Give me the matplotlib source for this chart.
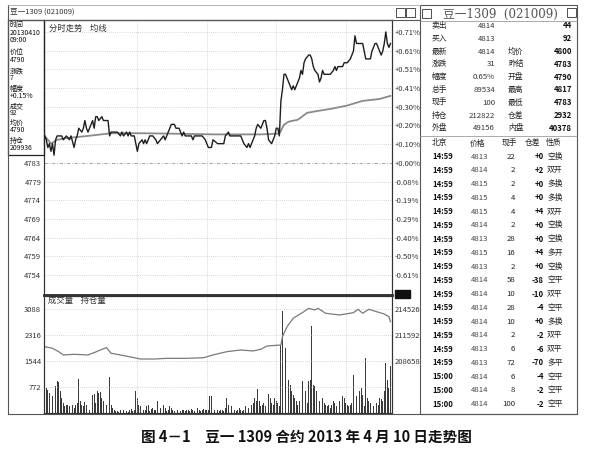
import numpy as np
import matplotlib
matplotlib.use('Agg')
import matplotlib.pyplot as plt
from matplotlib.patches import Rectangle

plt.rcParams['font.family'] = ['Noto Sans CJK SC', 'DejaVu Sans']

# ---- data ----
# price line: minute index (0..224) and price
price_t = [
    0, 1, 2, 3, 4, 5, 6, 7, 8, 9,
    11, 12, 14, 16, 17, 19, 20, 21, 22, 24,
    25, 26, 27, 28, 30, 31, 32, 33, 34, 35,
    37, 38, 39, 41, 42, 43, 45, 47, 49, 50,
    51, 53, 54, 55, 56, 58, 59, 60, 61, 63,
    64, 65, 66, 68, 70, 72, 73, 75, 77, 78,
    80, 81, 82, 84, 85, 87, 88, 89, 90, 91,
    93, 95, 96, 97, 99, 102, 104, 105, 106, 108,
    109, 112, 116, 117, 119, 120, 121, 125, 127, 128,
    129, 131, 132, 133, 134, 136, 137, 138, 140, 141,
    142, 143, 144, 145, 147, 148, 149, 150, 151, 152,
    153, 154, 155, 156, 157, 159, 160, 161, 162, 163,
    165, 166, 167, 168, 169, 171, 172, 173, 174, 175,
    177, 178, 179, 180, 181, 182, 183, 185, 187, 188,
    189, 190, 191, 193, 194, 196, 198, 200, 201, 202,
    204, 206, 207, 208, 209, 211, 212, 214, 215, 216,
    218, 219, 220, 221, 222, 223, 224]
price_v = [
    4790, 4789, 4787, 4788, 4786, 4788, 4785, 4789, 4790, 4790,
    4790, 4789, 4790, 4789, 4790, 4787, 4789, 4790, 4792, 4791,
    4792, 4794, 4792, 4791, 4793, 4794, 4792, 4795, 4795, 4794,
    4795, 4794, 4794, 4794, 4790, 4791, 4791, 4791, 4790, 4791,
    4790, 4791, 4790, 4791, 4790, 4790, 4788, 4786, 4788, 4789,
    4788, 4789, 4788, 4790, 4790, 4789, 4788, 4789, 4790, 4789,
    4791, 4792, 4793, 4793, 4792, 4792, 4791, 4790, 4791, 4790,
    4790, 4790, 4789, 4790, 4790, 4790, 4789, 4788, 4787, 4787,
    4789, 4788, 4788, 4790, 4791, 4790, 4790, 4790, 4790, 4789,
    4788, 4787, 4788, 4787, 4788, 4790, 4792, 4793, 4792, 4793,
    4794, 4794, 4792, 4789, 4788, 4789, 4790, 4792, 4792, 4790,
    4799, 4802, 4806, 4806, 4805, 4803, 4802, 4803, 4802, 4803,
    4805, 4807, 4806, 4809, 4810, 4811, 4811, 4810, 4808, 4807,
    4806, 4804, 4805, 4807, 4806, 4806, 4806, 4806, 4807, 4808,
    4807, 4808, 4808, 4808, 4809, 4809, 4810, 4812, 4816, 4814,
    4814, 4814, 4812, 4810, 4810, 4810, 4812, 4814, 4814, 4813,
    4811, 4812, 4814, 4817, 4814, 4813, 4814]

avg_t = [0, 4, 8, 15, 28, 43, 62, 81, 110, 140, 152, 155, 158, 164,
         170, 177, 185, 196, 206, 217, 224]
avg_v = [4790, 4788, 4789, 4789.5, 4790, 4790.7, 4790.7, 4790.6, 4790.4,
         4790.4, 4790.6, 4792.9, 4793.7, 4794.2, 4796.0, 4796.5, 4797.0,
         4797.9, 4799.1, 4799.6, 4800.4]

# volume per minute (225 minutes)
volume = [
    1650, 740, 690, 600, 560, 500, 990, 800, 940, 920,
    650, 450, 300, 200, 250, 250, 200, 300, 250, 150,
    250, 300, 1020, 350, 250, 200, 340, 250, 150, 100,
    150, 540, 560, 300, 640, 600, 620, 450, 350, 450,
    250, 200, 1060, 250, 150, 80, 60, 50, 40, 100,
    60, 90, 50, 60, 40, 80, 120, 60, 100, 640,
    450, 250, 200, 150, 100, 80, 200, 250, 60, 120,
    150, 100, 80, 345, 200, 150, 100, 250, 150, 60,
    100, 200, 150, 100, 60, 120, 80, 60, 50, 100,
    80, 60, 80, 100, 50, 120, 80, 60, 100, 150,
    80, 60, 100, 120, 80, 100, 80, 510, 510, 150,
    100, 50, 80, 60, 100, 80, 60, 150, 440, 250,
    150, 200, 120, 100, 60, 80, 150, 100, 60, 80,
    200, 250, 150, 200, 250, 300, 450, 350, 710, 350,
    200, 250, 300, 200, 450, 550, 450, 300, 250, 450,
    350, 300, 200, 2020, 3010, 3030, 1920, 1900, 990, 840,
    640, 540, 450, 350, 250, 350, 1040, 940, 1580, 640,
    300, 940, 990, 2570, 840, 790, 640, 540, 350, 250,
    450, 300, 250, 200, 250, 150, 250, 350, 300, 200,
    450, 350, 250, 500, 450, 300, 250, 200, 250, 300,
    1135, 940, 500, 540, 640, 740, 540, 200, 1630, 450,
    350, 300, 250, 200, 590, 300, 250, 450, 400, 350,
    640, 1480, 990, 740, 1380]

# open interest line
oi_t = [0, 5, 9, 12, 19, 28, 32, 36, 40, 43, 49, 58, 62, 71, 79, 92, 103,
        109, 118, 127, 135, 140, 144, 153, 154, 157, 161, 168, 171, 175,
        177, 182, 191, 200, 203, 206, 210, 215, 220, 223, 224]
oi_v = [210270, 210090, 209710, 209340, 209410, 209340, 209600, 209900,
        210160, 209530, 209340, 209030, 208880, 208880, 208960, 208960,
        209030, 209340, 209710, 209900, 209790, 209980, 210350, 210460,
        211400, 212530, 213480, 214230, 214600, 214410, 214600, 214040,
        213850, 214110, 214490, 214040, 214490, 214220, 213960, 213660,
        213090]

settle = 4783
pct_labels = ['+0.71%', '+0.61%', '+0.51%', '+0.41%', '+0.30%', '+0.20%',
              '+0.10%', '+0.00%', '-0.08%', '-0.19%', '-0.29%', '-0.40%',
              '-0.50%', '-0.61%']
price_labels = ['4783', '4779', '4774', '4769', '4764', '4759', '4754']
vol_ticks = [772, 1544, 2316, 3088]
oi_ticks = [208658, 211592, 214526]

info_left = ['时间', '20130410', '09:00', '价位', '4790', '涨跌', '7', '幅度',
             '+0.15%', '成交', '92', '均价', '4790', '持仓', '209936']

quote_lab1 = ['卖出', '买入', '最新', '涨跌', '幅度', '总手', '现手', '持仓', '外盘']
quote_val1 = ['4814', '4813', '4814', '31', '0.65%', '89534', '100', '212822', '49156']
quote_lab2 = ['', '', '均价', '昨结', '开盘', '最高', '最低', '仓差', '内盘']
quote_val2 = ['44', '92', '4800', '4783', '4790', '4817', '4783', '2932', '40378']

tick_time = ['14:59'] * 16 + ['15:00'] * 3
tick_price = ['4813', '4814', '4815', '4815', '4815', '4814', '4813', '4815', '4813',
              '4814', '4814', '4814', '4814', '4814', '4813', '4813', '4814', '4814', '4814']
tick_hand = ['22', '2', '2', '4', '4', '2', '28', '16', '2', '58', '10', '28', '10',
             '2', '6', '72', '6', '8', '100']
tick_oi = ['+0', '+2', '+0', '+0', '+4', '+0', '+0', '+4', '+0', '-38', '-10', '-4',
           '+0', '-2', '-6', '-70', '-4', '-2', '-2']
tick_kind = ['空换', '双开', '多换', '多换', '双开', '空换', '空换', '多开', '空换', '空平',
             '双平', '空平', '多换', '双平', '双平', '多平', '空平', '空平', '空平']

# ---- figure ----
W, H = 615, 453
fig = plt.figure(figsize=(6.15, 4.53), dpi=100)


def box(x0, y0, x1, y1):
    # pixel box (top-left origin) to figure fraction
    return [x0 / W, 1 - y1 / H, (x1 - x0) / W, (y1 - y0) / H]


grid_kw = dict(color='#b5b5b5', lw=0.5, ls=(0, (1, 2)))
vlines = [60, 105, 150, 195]

# price panel
ax = fig.add_axes(box(44, 20, 392, 295))
step = 4.86
levels = [settle + step * k for k in range(7, -7, -1)]
ax.set_xlim(-0.5, 225)
ax.set_ylim(4748.7, 4820.1)
for lv in levels:
    if lv == settle:
        ax.axhline(lv, color='#999999', lw=0.6, ls=(0, (4, 2, 1, 2)))
    else:
        ax.axhline(lv, **grid_kw)
for v in vlines:
    ax.axvline(v, **grid_kw)
ax.plot(avg_t, avg_v, color='#8a8a8a', lw=1.3)
ax.plot(price_t, price_v, color='#1e1e1e', lw=1.0)
ax.set_yticks(levels[7:])
ax.set_yticklabels(price_labels, fontsize=5.5, color='#333333')
ax.tick_params(axis='y', length=0, pad=2)
ax.set_xticks([])
axr = ax.twinx()
axr.set_ylim(ax.get_ylim())
axr.set_yticks(levels)
axr.set_yticklabels(pct_labels, fontsize=5.5, color='#333333')
axr.tick_params(axis='y', length=0, pad=2)
for a in (ax, axr):
    for s in a.spines.values():
        s.set_color('#333333')
        s.set_linewidth(0.8)
    a.spines['bottom'].set_linewidth(1.8)
ax.text(3, 4817.3, '分时走势    均线', fontsize=6, color='#333333')

# volume panel
av = fig.add_axes(box(44, 296, 392, 413))
av.set_xlim(-0.5, 225)
av.set_ylim(0, 3465)
for tv in vol_ticks:
    av.axhline(tv, **grid_kw)
for v in vlines:
    av.axvline(v, **grid_kw)
av.bar(np.arange(len(volume)), volume, width=0.55, color='#3a3a3a')
av.set_yticks(vol_ticks)
av.set_yticklabels([str(t) for t in vol_ticks], fontsize=5.5, color='#333333')
av.tick_params(axis='y', length=0, pad=2)
av.set_xticks([])
ao = av.twinx()
ao.set_ylim(202790, 215990)
ao.plot(oi_t, oi_v, color='#7a7a7a', lw=0.9)
ao.set_yticks(oi_ticks)
ao.set_yticklabels([str(t) for t in oi_ticks], fontsize=5.5, color='#333333')
ao.tick_params(axis='y', length=0, pad=2)
for a in (av, ao):
    for s in a.spines.values():
        s.set_color('#333333')
        s.set_linewidth(0.8)
av.text(2, 3250, '成交量    持仓量', fontsize=6, color='#333333')

# overlay in pixel coordinates for frames and text panels
ov = fig.add_axes([0, 0, 1, 1], zorder=10)
ov.set_xlim(0, W)
ov.set_ylim(H, 0)
ov.axis('off')
lc = '#555555'
ov.plot([8, 8], [5, 414], color=lc, lw=0.8)
ov.plot([8, 577], [414, 414], color=lc, lw=0.8)
ov.plot([8, 420], [5, 5], color='#aaaaaa', lw=0.6)
ov.plot([8, 420], [19.5, 19.5], color=lc, lw=0.8)
ov.add_patch(Rectangle((8, 20), 36, 135, fill=False, ec='#222222', lw=0.9))
ov.text(10, 12, '豆一1309 (021009)', fontsize=5.5, va='center', color='#333333')

info_y = [25, 33, 40.5, 52, 59.5, 71, 78, 89, 96, 106, 113, 123, 130.5, 141, 148.5]
for txt, yy in zip(info_left, info_y):
    ov.text(10, yy, txt, fontsize=5, va='center', color='#111111')

# little icons and the black marker box
ov.add_patch(Rectangle((396, 8), 9, 9, fill=False, ec='#333333', lw=0.6))
ov.add_patch(Rectangle((406, 8), 9, 9, fill=False, ec='#333333', lw=0.6))
ov.add_patch(Rectangle((395, 290), 15, 8, color='#111111'))

# right quote panel
ov.add_patch(Rectangle((420, 5), 157, 409, fill=False, ec=lc, lw=0.8))
ov.add_patch(Rectangle((422, 9), 9, 9, fill=False, ec='#333333', lw=0.6))
ov.add_patch(Rectangle((567, 8), 9, 9, fill=False, ec='#333333', lw=0.6))
ov.text(500, 14, '豆一1309  (021009)', fontsize=8.5, ha='center', va='center',
        color='#555555', family=['DejaVu Serif', 'Noto Sans CJK SC'])
ov.plot([420, 577], [20.5, 20.5], color='#888888', lw=0.5)
qfs = 5.6
for i in range(len(quote_lab1)):
    yy = 26 + 12.8 * i
    ov.text(432, yy, quote_lab1[i], fontsize=qfs, va='center', color='#222222')
    ov.text(495, yy, quote_val1[i], fontsize=qfs, va='center', ha='right', color='#333333')
    ov.text(508, yy, quote_lab2[i], fontsize=qfs, va='center', color='#222222')
    ov.text(572, yy, quote_val2[i], fontsize=qfs, va='center', ha='right',
            color='#111111', fontweight='bold')
ov.plot([420, 577], [136, 136], color='#888888', lw=0.5)
for txt, xx in zip(['北京', '价格', '现手', '仓差', '性质'], [432, 470, 502, 525, 546]):
    ov.text(xx, 143.5, txt, fontsize=qfs, va='center', color='#222222')
for i in range(len(tick_time)):
    yy = 156.7 + 13.75 * i
    ov.text(432, yy, tick_time[i], fontsize=qfs, va='center', color='#111111',
            fontweight='bold')
    ov.text(488, yy, tick_price[i], fontsize=qfs, va='center', ha='right', color='#444444')
    ov.text(515, yy, tick_hand[i], fontsize=qfs, va='center', ha='right', color='#222222')
    ov.text(544, yy, tick_oi[i], fontsize=qfs, va='center', ha='right', color='#111111',
            fontweight='bold')
    ov.text(547, yy, tick_kind[i], fontsize=qfs, va='center', color='#222222')

# caption
ov.text(306, 437, '图 4－1　豆一 1309 合约 2013 年 4 月 10 日走势图', fontsize=10.5,
        ha='center', va='center', fontweight='bold', color='#111111')

fig.savefig('out.png', dpi=100, facecolor='white')
